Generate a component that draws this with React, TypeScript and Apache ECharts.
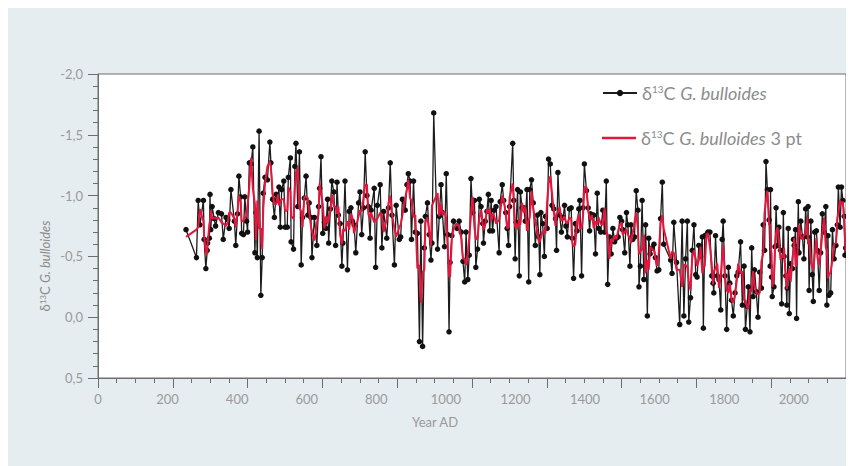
import React, { useEffect, useRef } from "react";
import * as echarts from "echarts";

// Year AD of each sample
const years = [
  253,283,288,293,303,305,310,314,315,320,322,324,328,334,338,346,355,360,368,373,
  377,382,392,396,401,405,410,413,418,422,427,430,435,440,445,451,454,458,463,468,
  472,475,480,487,494,497,502,507,512,517,520,524,528,534,538,544,547,553,555,562,
  566,569,574,579,584,588,593,598,603,607,612,615,622,629,634,637,641,646,651,655,
  660,663,668,672,678,683,687,691,696,701,704,710,
  717,722,727,731,736,741,749,753,758,763,768,773,777,782,785,794,798,803,811,816,
  821,830,835,840,845,852,857,866,870,875,883,888,892,897,901,907,912,918,924,928,
  933,938,941,947,952,957,960,965,976,981,986,990,996,1001,1005,1009,1012,1017,1022,1032,
  1038,1044,1049,1054,1058,1063,1067,1072,1077,1082,1086,1091,1096,1101,1106,1108,1113,1118,1122,1126,
  1130,1134,1139,1144,1153,1156,1162,1166,1172,1176,1180,1183,
  1192,1195,1199,1202,1206,1211,1214,1219,1224,1228,1233,1238,1241,1246,1251,1257,1263,1267,1270,1273,
  1278,1283,1286,1291,1295,1300,1305,1310,1315,1318,1322,1327,1332,1337,1341,1345,1349,1355,1360,1363,
  1367,1372,1377,1382,1385,1390,1394,1398,1404,1409,1413,1416,1420,1425,1430,1435,1439,1445,1451,1456,
  1461,1465,1470,1475,1480,1485,1490,1495,1500,1505,1508,1514,1519,1523,1529,1532,1537,1542,1547,1552,
  1555,1559,1564,1569,1574,1579,1583,1587,1593,1598,1602,1607,1612,1617,1622,1626,1646,1650,
  1655,1663,1672,1679,1684,1689,1694,1698,1703,1708,1713,1718,1722,1727,1732,1737,1740,1744,1749,1753,
  1759,1764,1768,1770,1775,1780,1785,1790,1794,1797,1802,1807,1812,1816,1821,1826,1831,1836,1840,1847,
  1852,1857,1861,1866,1869,1874,1879,1883,1887,1892,1897,1902,1907,1912,1916,1920,1924,1929,1932,1933,
  1936,1938,1943,1946,1949,1953,1957,1962,1965,1970,1972,1977,1980,1981,1984,1987,1991,1996,1999,2001,
  2005,2008,2010,2013,2015,2020,2025,2029,2034,2039,2041,2044,2049,2053,2056,2060,2065,2068,2073,2077,
  2082,2087,2092,2095,2098,2101,2106,2111,2116,2121,2125,2128,2133,2137,2141,2145,2147,2149
];

// δ13C G. bulloides (per mil)
const d13C = [
  -0.72,-0.49,-0.96,-0.76,-0.96,-0.64,-0.40,-0.55,-0.61,-0.65,-1.01,-0.72,-0.91,-0.81,-0.75,-0.86,-0.85,-0.64,-0.82,-0.80,
  -0.73,-1.05,-0.79,-0.59,-0.85,-1.16,-0.99,-0.69,-0.68,-0.99,-0.79,-0.70,-1.27,-1.26,-1.40,-0.53,-0.86,-0.49,-1.53,-0.18,
  -0.49,-1.02,-1.15,-1.13,-1.44,-1.27,-0.97,-0.82,-1.01,-0.96,-1.07,-0.74,-1.05,-1.12,-0.74,-0.74,-1.15,-1.31,-0.62,-0.56,
  -1.24,-1.43,-0.91,-1.36,-0.43,-0.82,-0.98,-1.16,-0.84,-0.94,-0.82,-0.49,-0.82,-0.59,-0.91,-1.06,-1.32,-0.69,-0.78,-0.73,
  -0.97,-0.61,-0.89,-1.12,-1.03,-0.59,-1.11,-0.84,-0.77,-0.42,-0.61,-1.12,
  -0.39,-0.87,-0.90,-0.79,-0.76,-0.53,-0.94,-1.03,-0.68,-0.90,-1.36,-1.00,-0.91,-0.65,-0.88,-1.06,-0.41,-0.92,-1.09,-0.57,
  -0.87,-0.65,-0.90,-1.27,-0.84,-0.43,-0.92,-0.64,-0.66,-0.97,-0.88,-1.09,-1.18,-1.12,-0.64,-1.12,-0.70,-0.69,0.20,-0.79,
  0.24,-0.57,-0.83,-0.94,-0.68,-0.47,-0.61,-1.68,-0.56,-0.83,-1.09,-0.86,-0.58,-1.18,-0.68,0.12,-0.45,-0.67,-0.79,-0.73,
  -0.79,-0.70,-0.46,-0.29,-0.70,-0.31,-0.51,-1.14,-0.86,-0.96,-0.41,-0.56,-0.97,-0.91,-0.77,-0.61,-0.79,-0.87,-1.01,-0.71,
  -0.96,-0.71,-0.88,-0.91,-0.53,-0.95,-1.09,-0.96,-0.86,-0.73,-0.59,-0.91,
  -1.43,-0.96,-0.48,-0.78,-1.05,-0.34,-1.03,-0.90,-0.90,-0.79,-1.05,-0.29,-1.05,-1.13,-0.94,-0.59,-0.84,-0.66,-0.35,-0.86,
  -0.77,-0.50,-0.83,-0.73,-1.30,-1.26,-0.92,-0.89,-0.81,-0.55,-1.19,-0.84,-0.70,-0.82,-0.92,-0.75,-0.66,-0.89,-0.90,-0.65,
  -0.32,-0.77,-0.71,-0.89,-0.96,-0.34,-0.90,-1.26,-1.04,-0.90,-0.71,-0.85,-0.84,-0.84,-0.52,-1.02,-0.73,-0.70,-0.88,-0.70,
  -1.12,-0.27,-0.66,-0.52,-0.73,-0.62,-0.65,-0.66,-0.82,-0.79,-0.72,-0.53,-0.86,-0.76,-0.42,-0.76,-0.64,-0.66,-1.04,-0.88,
  -0.25,-0.42,-0.96,-0.31,-0.76,-0.01,-0.65,-0.52,-0.57,-0.60,-0.49,-0.38,-0.39,-0.81,-1.11,-0.60,-0.47,-0.36,
  -0.78,-0.45,0.06,-0.79,-0.01,-0.48,-0.79,0.04,-0.16,-0.55,-0.76,-0.35,-0.33,-0.59,-0.50,-0.66,0.09,-0.67,-0.68,-0.70,
  -0.70,-0.34,-0.28,-0.20,-0.67,-0.34,-0.31,-0.06,-0.64,-0.79,-0.34,0.10,-0.41,-0.28,-0.14,-0.01,-0.20,-0.34,-0.37,-0.62,
  -0.10,-0.42,0.10,-0.09,-0.25,0.12,-0.57,-0.17,-0.39,-0.21,0.00,-0.37,-0.24,-0.76,-0.55,-1.28,-1.05,-0.80,-0.42,-1.05,
  -0.33,-0.17,-0.25,-0.58,-0.90,-0.59,-0.74,-0.55,-0.11,-0.86,-0.50,-0.34,-0.10,-0.24,-0.73,-0.03,-0.44,-0.40,-0.64,-0.59,
  -0.72,0.01,-0.55,-0.95,-0.53,-0.79,-0.66,-0.48,-0.89,-0.66,-0.91,-0.22,-0.79,-0.35,-0.13,-0.70,-0.71,-0.55,-0.22,-0.53,
  -0.85,-0.70,-0.91,-0.10,-0.67,-0.18,-0.20,-0.72,-0.48,-0.59,-0.76,-1.07,-0.74,-1.07,-0.96,-0.83,-0.51,-0.57
];

// δ13C G. bulloides 3 pt (red curve, read at the same years)
const d13C3pt = [
  -0.66,-0.72,-0.74,-0.89,-0.79,-0.67,-0.53,-0.52,-0.60,-0.76,-0.79,-0.88,-0.81,-0.82,-0.81,-0.82,-0.78,-0.77,-0.75,-0.78,
  -0.86,-0.86,-0.81,-0.74,-0.87,-1.00,-0.95,-0.79,-0.79,-0.82,-0.83,-0.92,-1.08,-1.31,-1.06,-0.93,-0.63,-0.96,-0.73,-0.73,
  -0.56,-0.89,-1.10,-1.24,-1.28,-1.23,-1.02,-0.93,-0.93,-1.01,-0.92,-0.95,-0.97,-0.97,-0.87,-0.88,-1.07,-1.03,-0.83,-0.81,
  -1.08,-1.19,-1.23,-0.90,-0.87,-0.74,-0.99,-0.99,-0.98,-0.87,-0.75,-0.71,-0.63,-0.77,-0.85,-1.10,-1.02,-0.93,-0.73,-0.83,
  -0.77,-0.82,-0.87,-1.01,-0.91,-0.91,-0.85,-0.91,-0.68,-0.60,-0.72,-0.71,
  -0.79,-0.72,-0.85,-0.82,-0.69,-0.74,-0.83,-0.88,-0.87,-0.98,-1.09,-1.09,-0.85,-0.81,-0.86,-0.78,-0.80,-0.81,-0.86,-0.84,
  -0.70,-0.81,-0.94,-1.00,-0.85,-0.73,-0.66,-0.74,-0.76,-0.84,-0.98,-1.05,-1.13,-0.98,-0.96,-0.82,-0.84,-0.40,-0.43,-0.12,
  -0.37,-0.39,-0.78,-0.82,-0.70,-0.59,-0.92,-0.95,-1.02,-0.83,-0.93,-0.84,-0.87,-0.81,-0.58,-0.34,-0.33,-0.64,-0.73,-0.77,
  -0.74,-0.65,-0.48,-0.48,-0.43,-0.51,-0.65,-0.84,-0.99,-0.74,-0.64,-0.65,-0.81,-0.88,-0.76,-0.72,-0.76,-0.89,-0.86,-0.89,
  -0.79,-0.85,-0.83,-0.77,-0.80,-0.86,-1.00,-0.97,-0.85,-0.73,-0.74,-0.98,
  -1.10,-0.96,-0.74,-0.77,-0.72,-0.81,-0.76,-0.94,-0.86,-0.91,-0.71,-0.80,-0.82,-1.04,-0.89,-0.79,-0.70,-0.62,-0.62,-0.66,
  -0.71,-0.70,-0.69,-0.95,-1.10,-1.16,-1.02,-0.87,-0.75,-0.85,-0.86,-0.91,-0.79,-0.81,-0.83,-0.78,-0.77,-0.82,-0.81,-0.62,
  -0.58,-0.60,-0.79,-0.85,-0.73,-0.73,-0.83,-1.07,-1.07,-0.88,-0.82,-0.80,-0.84,-0.73,-0.79,-0.76,-0.82,-0.77,-0.76,-0.90,
  -0.70,-0.68,-0.48,-0.64,-0.62,-0.67,-0.64,-0.71,-0.76,-0.78,-0.68,-0.70,-0.72,-0.68,-0.65,-0.61,-0.69,-0.78,-0.86,-0.72,
  -0.52,-0.54,-0.56,-0.68,-0.36,-0.47,-0.39,-0.58,-0.56,-0.55,-0.49,-0.42,-0.53,-0.77,-0.84,-0.73,-0.48,-0.54,
  -0.53,-0.39,-0.39,-0.25,-0.43,-0.43,-0.41,-0.30,-0.22,-0.49,-0.55,-0.48,-0.42,-0.47,-0.58,-0.36,-0.41,-0.42,-0.68,-0.69,
  -0.58,-0.44,-0.27,-0.38,-0.40,-0.44,-0.24,-0.34,-0.50,-0.59,-0.34,-0.22,-0.20,-0.28,-0.14,-0.12,-0.18,-0.30,-0.44,-0.36,
  -0.38,-0.14,-0.14,-0.08,-0.07,-0.23,-0.21,-0.38,-0.26,-0.20,-0.19,-0.20,-0.46,-0.52,-0.86,-0.96,-1.04,-0.76,-0.76,-0.60,
  -0.52,-0.25,-0.33,-0.58,-0.69,-0.74,-0.63,-0.47,-0.51,-0.49,-0.57,-0.31,-0.23,-0.36,-0.33,-0.40,-0.29,-0.49,-0.54,-0.65,
  -0.43,-0.42,-0.50,-0.68,-0.76,-0.66,-0.64,-0.68,-0.68,-0.82,-0.60,-0.64,-0.45,-0.42,-0.39,-0.51,-0.65,-0.49,-0.43,-0.53,
  -0.69,-0.82,-0.57,-0.56,-0.32,-0.35,-0.37,-0.47,-0.60,-0.61,-0.81,-0.86,-0.96,-0.92,-0.95,-0.77,-0.64,-0.54
];

const NAME_RAW = "δ13C G. bulloides";
const NAME_3PT = "δ13C G. bulloides 3 pt";
const X_TITLE = "Year AD";

const FONT = "Lato, 'Open Sans', 'DejaVu Sans', sans-serif";
const TEXT_GREY = "#8c8c8c";
const AXIS_GREY = "#6e6e6e";

export default function App() {
  const ref = useRef<HTMLDivElement>(null);

  useEffect(() => {
    document.documentElement.style.overflow = "hidden";
    document.body.style.overflow = "hidden";
    const chart = echarts.init(ref.current as HTMLDivElement, undefined, { renderer: "svg" });

    const legendRich = {
      d: { fontSize: 18, color: TEXT_GREY, fontFamily: FONT, lineHeight: 22 },
      s: { fontSize: 10, color: TEXT_GREY, fontFamily: FONT, lineHeight: 22, verticalAlign: "top", padding: [2, 0, 0, 0] },
      i: { fontSize: 18, color: TEXT_GREY, fontFamily: FONT, fontStyle: "italic", lineHeight: 22 },
    };
    const nameRich = {
      d: { fontSize: 13, fill: TEXT_GREY, fontFamily: FONT, lineHeight: 15 },
      s: { fontSize: 8, fill: TEXT_GREY, fontFamily: FONT, lineHeight: 15, verticalAlign: "top", padding: [1, 0, 0, 0] },
      i: { fontSize: 13, fill: TEXT_GREY, fontFamily: FONT, fontStyle: "italic", lineHeight: 15 },
    };
    const legendFormatter = (name: string) =>
      name === NAME_RAW
        ? "{d|δ}{s|13}{d|C }{i|G. bulloides}"
        : "{d|δ}{s|13}{d|C }{i|G. bulloides}{d| 3 pt}";

    const rawData = years.map((y, i) => [y, d13C[i]]);
    const smoothData = years.map((y, i) => [y, d13C3pt[i]]);

    chart.setOption({
      animation: false,
      backgroundColor: "transparent",
      grid: {
        left: 90,
        top: 66,
        width: 748,
        height: 304,
        show: true,
        backgroundColor: "#ffffff",
        borderColor: AXIS_GREY,
        borderWidth: 1,
      },
      legend: [
        {
          data: [NAME_RAW],
          left: 589,
          top: 69,
          itemWidth: 34,
          itemHeight: 8,
          selectedMode: false,
          formatter: legendFormatter,
          textStyle: { rich: legendRich },
        },
        {
          data: [{ name: NAME_3PT, icon: "rect" }],
          left: 589,
          top: 114,
          itemWidth: 34,
          itemHeight: 2.5,
          selectedMode: false,
          formatter: legendFormatter,
          textStyle: { rich: legendRich },
        },
      ],
      xAxis: [
        {
          type: "value",
          min: 0,
          max: 2150,
          interval: 200,
          position: "bottom",
          axisLine: { show: true, onZero: false, lineStyle: { color: AXIS_GREY, width: 1 } },
          axisTick: { show: false },
          splitLine: { show: false },
          axisLabel: {
            color: "#9a9a9a",
            fontSize: 13,
            fontFamily: FONT,
            margin: 14,
            showMaxLabel: false,
            formatter: (v: number) => String(v),
          },
        },
        {
          type: "value",
          min: 0,
          max: 10,
          interval: 1,
          position: "bottom",
          axisLine: { show: false, onZero: false },
          axisTick: { show: true, length: 10, lineStyle: { color: AXIS_GREY, width: 1 } },
          minorTick: { show: true, splitNumber: 4, length: 5, lineStyle: { color: AXIS_GREY, width: 1 } },
          axisLabel: { show: false },
          splitLine: { show: false },
          minorSplitLine: { show: false },
        },
      ],
      yAxis: {
        type: "value",
        inverse: true,
        min: -2,
        max: 0.5,
        interval: 0.5,
        axisLine: { show: true, onZero: false, lineStyle: { color: AXIS_GREY, width: 1 } },
        axisTick: { show: true, length: 10, lineStyle: { color: AXIS_GREY, width: 1 } },
        minorTick: { show: true, splitNumber: 5, length: 5, lineStyle: { color: AXIS_GREY, width: 1 } },
        splitLine: { show: false },
        axisLabel: {
          color: "#9a9a9a",
          fontSize: 13,
          fontFamily: FONT,
          margin: 15,
          formatter: (v: number) => v.toFixed(1).replace(".", ","),
        },
      },
      graphic: [
        {
          type: "text",
          x: 427,
          y: 414,
          style: {
            text: X_TITLE,
            fill: "#9a9a9a",
            fontSize: 13,
            fontFamily: FONT,
            align: "center",
            verticalAlign: "middle",
          },
        },
        {
          type: "text",
          x: 37,
          y: 258,
          rotation: Math.PI / 2,
          style: {
            text: "{d|δ}{s|13}{d|C }{i|G. bulloides}",
            rich: nameRich,
            fill: TEXT_GREY,
            align: "center",
            verticalAlign: "middle",
          },
        },
      ],
      series: [
        {
          name: NAME_RAW,
          type: "line",
          xAxisIndex: 0,
          data: rawData,
          color: "#111111",
          symbol: "circle",
          symbolSize: 5.5,
          showSymbol: true,
          lineStyle: { color: "#1c1c1c", width: 1.3 },
          itemStyle: { color: "#111111" },
          z: 2,
        },
        {
          name: NAME_3PT,
          type: "line",
          xAxisIndex: 0,
          data: smoothData,
          color: "#e2173d",
          symbol: "none",
          lineStyle: { color: "#e2173d", width: 2 },
          z: 3,
        },
      ],
    });

    return () => chart.dispose();
  }, []);

  return <div ref={ref} style={{ width: 846, height: 458, background: "#e5edf0" }} />;
}
